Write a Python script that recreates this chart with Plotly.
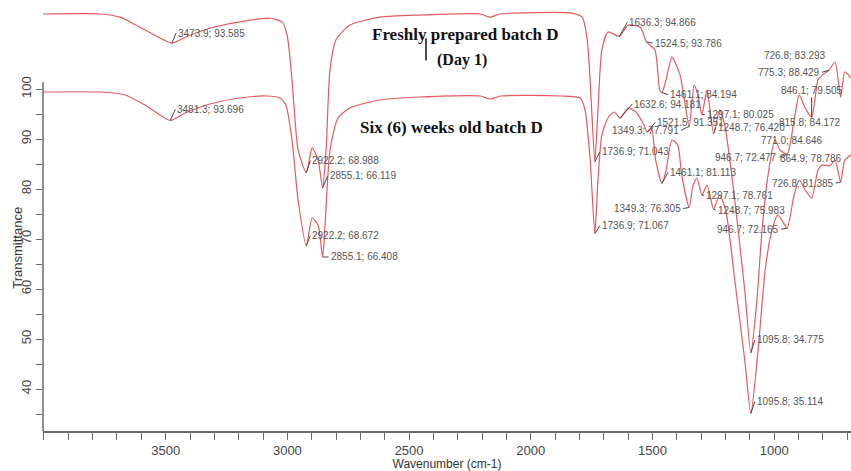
import plotly.graph_objects as go

# ---------------- data ----------------
# Freshly prepared batch D (Day 1) - upper trace (transmittance, %)
wavenumber_fresh = [4004, 3770, 3688, 3605, 3473.9, 3420, 3318, 3195, 3071, 3022, 3001, 2981, 2956,
                    2922.2, 2898, 2874, 2855.1, 2841, 2825, 2800, 2743, 2620, 2455, 2208, 2167, 2125,
                    1838, 1789, 1768, 1752, 1736.9, 1724, 1708, 1683, 1636.3, 1600, 1550, 1524.5, 1490,
                    1470, 1461.1, 1444, 1420, 1387, 1349.3, 1329, 1313, 1297.1, 1276, 1248.7, 1224, 1203,
                    1162, 1121, 1095.8, 1071, 1050, 1025, 997, 976, 946.7, 918, 897, 873, 846.1, 820, 803,
                    775.3, 750, 726.8, 710, 684]
transmittance_fresh = [99.1, 99.1, 98.5, 96.6, 93.585, 94.7, 96.4, 97.6, 98.3, 97.6, 95.1, 86.6, 73.3,
                       68.988, 73.7, 71.4, 66.119, 73.3, 88.5, 94.2, 97.0, 98.5, 98.9, 99.1, 98.5, 99.1,
                       99.3, 98.5, 94.2, 82.8, 71.043, 80.9, 92.3, 95.7, 94.866, 97.0, 96.6, 93.786, 92.3,
                       84.6, 84.194, 86.6, 90.9, 87.6, 77.791, 85.6, 83.7, 80.025, 84.7, 76.420, 80.9, 78.0,
                       63.8, 46.7, 34.775, 44.8, 58.1, 68.6, 75.2, 73.3, 72.477, 79.0, 83.7, 81.3, 79.505,
                       86.6, 87.5, 88.429, 90.0, 83.293, 88.1, 87.0]

# Six (6) weeks old batch D - lower trace (transmittance, %)
wavenumber_six = [4004, 3770, 3667, 3585, 3481.3, 3420, 3318, 3195, 3084, 3030, 3006, 2981, 2956,
                  2922.2, 2898, 2874, 2855.1, 2845, 2825, 2792, 2743, 2620, 2455, 2208, 2167, 2125,
                  1879, 1797, 1777, 1756, 1736.9, 1724, 1708, 1683, 1658, 1632.6, 1600, 1568, 1535,
                  1521.5, 1504, 1487, 1461.1, 1444, 1420, 1396, 1380, 1349.3, 1333, 1317, 1297.1, 1276,
                  1248.7, 1224, 1199, 1162, 1121, 1095.8, 1066, 1037, 1009, 985, 964, 946.7, 918, 897,
                  873, 846, 820, 803, 771.0, 750, 726.8, 710, 684]
transmittance_six = [99.4, 99.4, 98.8, 96.8, 93.696, 95.2, 97.0, 98.2, 98.6, 98.2, 96.8, 89.8, 77.8,
                     68.672, 74.2, 72.8, 66.408, 73.0, 87.8, 94.2, 96.2, 97.8, 98.4, 98.6, 98.0, 98.6,
                     98.6, 98.2, 95.8, 85.8, 71.067, 81.8, 90.8, 94.2, 95.4, 94.181, 96.2, 95.4, 92.8,
                     91.351, 92.2, 85.8, 81.113, 83.8, 89.8, 88.8, 82.8, 76.305, 80.8, 82.2, 78.761, 80.8,
                     75.983, 78.8, 75.8, 61.8, 45.8, 35.114, 47.8, 63.8, 71.8, 74.8, 73.4, 72.165, 78.8, 81.8,
                     79.8, 78.2, 83.8, 84.8, 84.646, 85.8, 81.385, 85.8, 86.8]

# peak labels
peak_series = ["fresh", "six", "fresh", "fresh", "six", "six", "fresh", "fresh", "fresh", "fresh",
               "fresh", "fresh", "six", "fresh", "six", "fresh", "six", "fresh", "six", "fresh",
               "fresh", "six", "six", "six", "six", "six", "six", "six", "six", "fresh", "six"]
peak_wn = [3473.9, 3481.3, 2922.2, 2855.1, 2922.2, 2855.1, 1636.3, 1524.5, 726.8, 775.3,
           846.1, 1461.1, 1632.6, 1297.1, 815.8, 1349.3, 1521.5, 1248.7, 771.0, 1736.9,
           946.7, 864.9, 1461.1, 726.8, 1297.1, 1349.3, 1248.7, 1736.9, 946.7, 1095.8, 1095.8]
peak_t = [93.585, 93.696, 68.988, 66.119, 68.672, 66.408, 94.866, 93.786, 83.293, 88.429,
          79.505, 84.194, 94.181, 80.025, 84.172, 77.791, 91.351, 76.420, 84.646, 71.043,
          72.477, 78.786, 81.113, 81.385, 78.761, 76.305, 75.983, 71.067, 72.165, 34.775, 35.114]

# label placement (styling): pixel offset of text from the peak, anchor, leader visible
label_style = [(4, -10, "left", 1), (5, -11, "left", 1), (4, -12, "left", 1), (5, -12, "left", 1),
               (4, -10, "left", 1), (6, 0, "left", 1), (8, -14, "left", 1), (6, 1, "left", 1),
               (-79, -42, "left", 0), (-7, 2, "right", 1), (0, -27, "center", 1), (6, 2, "left", 1),
               (12, -14, "left", 1), (3, 0, "left", 1), (-9, -46, "center", 0), (-8, 4, "right", 1),
               (8, -10, "left", 1), (2, -6, "left", 1), (-38, -25, "center", 0), (5, -10, "left", 1),
               (-8, 3, "right", 1), (-29, -37, "left", 0), (6, -11, "left", 1), (-5, 1, "right", 1),
               (2, 0, "left", 1), (-6, 1, "right", 1), (2, 1, "left", 1), (5, -8, "left", 1),
               (-6, 1, "right", 1), (4, -13, "left", 1), (4, -12, "left", 1)]

y_ticks = [40, 50, 60, 70, 80, 90, 100]
y_minor = [35, 45, 55, 65, 75, 85, 95]
x_ticks = [3500, 3000, 2500, 2000, 1500, 1000]

# ---------------- figure ----------------
LINE = "#E45A60"
AX = "#6a6a6a"
Y_RANGE = [31.6, 116.8]
Y2_RANGE = [19.97, 100.81]   # offset display scale of the upper (Day 1) trace

fig = go.Figure()
fig.add_trace(go.Scatter(x=wavenumber_six, y=transmittance_six, mode="lines",
                         line=dict(color=LINE, width=1.2, shape="spline", smoothing=0.6),
                         yaxis="y", showlegend=False))
fig.add_trace(go.Scatter(x=wavenumber_fresh, y=transmittance_fresh, mode="lines",
                         line=dict(color=LINE, width=1.2, shape="spline", smoothing=0.6),
                         yaxis="y2", showlegend=False))

annotations = []
for s, w, t, (ax, ay, anc, vis) in zip(peak_series, peak_wn, peak_t, label_style):
    annotations.append(dict(
        x=w, y=t, xref="x", yref="y2" if s == "fresh" else "y",
        text=f"{w:.1f}; {t:.3f}", showarrow=True, ax=ax, ay=ay, axref="pixel", ayref="pixel",
        xanchor=anc, yanchor="middle", arrowhead=0, arrowwidth=1,
        arrowcolor="#444444" if vis else "rgba(0,0,0,0)",
        font=dict(family="Arial, Liberation Sans", size=10, color="#555555"),
    ))

serif = dict(family="Liberation Serif, Times New Roman, serif", size=17, color="#111111")
annotations += [
    dict(text="<b>Freshly prepared batch D</b>", x=0.5235, y=0.9296, xref="paper", yref="paper",
         showarrow=False, font=serif, xanchor="center", yanchor="middle"),
    dict(text="<b>(Day 1)</b>", x=0.518, y=0.8709, xref="paper", yref="paper",
         showarrow=False, font=dict(serif, size=16), xanchor="center", yanchor="middle"),
    dict(text="<b>Six (6) weeks old batch D</b>", x=0.505, y=0.7113, xref="paper", yref="paper",
         showarrow=False, font=serif, xanchor="center", yanchor="middle"),
    dict(text="Transmittance", x=-0.031, y=0.43, xref="paper", yref="paper", textangle=-90,
         showarrow=False, font=dict(family="Arial, Liberation Sans", size=13, color="#333333"),
         xanchor="center", yanchor="middle"),
]

shapes = [
    dict(type="line", xref="paper", yref="y", x0=0, x1=0, y0=Y_RANGE[0], y1=101.4,
         line=dict(color=AX, width=1.5)),
    dict(type="line", xref="paper", yref="paper", x0=0.474, x1=0.474, y0=0.870, y1=0.922,
         line=dict(color="#111111", width=1.5)),
]

fig.update_layout(
    width=851, height=471,
    margin=dict(l=43, r=0, t=5, b=40),
    plot_bgcolor="white", paper_bgcolor="white",
    showlegend=False,
    annotations=annotations,
    shapes=shapes,
    xaxis=dict(
        range=[4004, 684.4], showgrid=False, zeroline=False,
        showline=True, linecolor=AX, linewidth=1.5,
        tickvals=x_ticks, ticks="outside", ticklen=7, tickcolor=AX, tickwidth=1.2,
        tickfont=dict(family="Arial, Liberation Sans", size=13, color="#444444"),
        minor=dict(dtick=100, tick0=0, ticks="outside", ticklen=7, tickcolor=AX, tickwidth=1.2),
        title=dict(text="Wavenumber (cm-1)", standoff=2,
                   font=dict(family="Arial, Liberation Sans", size=12, color="#333333")),
    ),
    yaxis=dict(
        range=Y_RANGE, showgrid=False, zeroline=False, showline=False,
        tickvals=y_ticks, tickangle=-90, ticks="outside", ticklen=6, tickcolor=AX, tickwidth=1.2,
        tickfont=dict(family="Arial, Liberation Sans", size=13, color="#444444"),
        minor=dict(tickvals=y_minor, ticks="outside", ticklen=6, tickcolor=AX, tickwidth=1.2),
    ),
    yaxis2=dict(range=Y2_RANGE, overlaying="y", visible=False),
)

fig.write_html("out.html")
